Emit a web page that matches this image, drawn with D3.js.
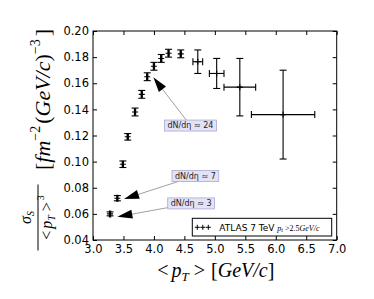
<!DOCTYPE html>
<html>
<head>
<meta charset="utf-8">
<script src="https://cdn.jsdelivr.net/npm/d3@7"></script>
<style>
  html, body { margin: 0; padding: 0; background: #fff; }
  svg { display: block; }
</style>
</head>
<body>
<div id="chart"></div>
<script>
// data
const meanPt = [3.28, 3.40, 3.49, 3.57, 3.69, 3.80, 3.89, 4.00, 4.12, 4.24, 4.44, 4.72, 5.03, 5.41, 6.12];
const sigmaOverPt3 = [0.060, 0.072, 0.098, 0.119, 0.138, 0.1515, 0.165, 0.173, 0.179, 0.183, 0.1825, 0.1765, 0.1675, 0.157, 0.136];
const ptErr = [0.01, 0.01, 0.01, 0.01, 0.01, 0.01, 0.01, 0.01, 0.01, 0.01, 0.01, 0.08, 0.12, 0.26, 0.52];
const sigmaErr = [0.0015, 0.002, 0.0025, 0.0025, 0.003, 0.003, 0.003, 0.003, 0.003, 0.003, 0.003, 0.009, 0.0115, 0.022, 0.034];

const xTicks = [3.0, 3.5, 4.0, 4.5, 5.0, 5.5, 6.0, 6.5, 7.0];
const yTicks = [0.04, 0.06, 0.08, 0.10, 0.12, 0.14, 0.16, 0.18, 0.20];

const noteLabels = ["dN/dη ≈ 24", "dN/dη ≈ 7", "dN/dη ≈ 3"];
const noteTextX = [4.60, 4.68, 4.61];
const noteTextY = [0.1276, 0.089, 0.068];
const noteTipX = [3.99, 3.51, 3.40];
const noteTipY = [0.1646, 0.0714, 0.0578];

// =========================
// SETUP
// =========================
const width = 374, height = 299;
const margin = { top: 31, right: 37.3, bottom: 59, left: 93 };
const iw = width - margin.left - margin.right;
const ih = height - margin.top - margin.bottom;

const svg = d3.select("#chart").append("svg")
    .attr("width", width)
    .attr("height", height);

const g = svg.append("g")
    .attr("transform", `translate(${margin.left},${margin.top})`);

const x = d3.scaleLinear().domain([3, 7]).range([0, iw]);
const y = d3.scaleLinear().domain([0.04, 0.20]).range([ih, 0]);

const sans = "'DejaVu Sans', sans-serif";
const serif = "'Liberation Serif', 'DejaVu Serif', serif";

// =========================
// AXES (ticks inward, all four sides)
// =========================
g.append("g")
    .attr("transform", `translate(0,${ih})`)
    .call(d3.axisBottom(x).tickValues(xTicks).tickFormat(d3.format(".1f"))
        .tickSize(-4).tickSizeOuter(0).tickPadding(5));
g.append("g")
    .call(d3.axisLeft(y).tickValues(yTicks).tickFormat(d3.format(".2f"))
        .tickSize(-4).tickSizeOuter(0).tickPadding(4));
g.append("g")
    .call(d3.axisTop(x).tickValues(xTicks).tickFormat("")
        .tickSize(-4).tickSizeOuter(0));
g.append("g")
    .attr("transform", `translate(${iw},0)`)
    .call(d3.axisRight(y).tickValues(yTicks).tickFormat("")
        .tickSize(-4).tickSizeOuter(0));

g.selectAll(".tick text")
    .style("font-family", sans)
    .style("font-size", "11.5px")
    .attr("fill", "#000");
g.selectAll(".tick line").attr("stroke", "#000");
g.selectAll(".domain").remove();

g.append("rect")
    .attr("width", iw).attr("height", ih)
    .attr("fill", "none").attr("stroke", "#000").attr("stroke-width", 1);

// =========================
// ERROR BARS
// =========================
const pts = meanPt.map((v, i) => ({ x: v, y: sigmaOverPt3[i], xe: ptErr[i], ye: sigmaErr[i] }));
const cap = 3.5;

const eb = g.append("g")
    .attr("stroke", "#000")
    .attr("stroke-width", 1.1)
    .attr("fill", "none");

pts.forEach(d => {
    const cx = x(d.x), cy = y(d.y);
    const x0 = x(d.x - d.xe), x1 = x(d.x + d.xe);
    const y0 = y(d.y - d.ye), y1 = y(d.y + d.ye);
    eb.append("line").attr("x1", x0).attr("x2", x1).attr("y1", cy).attr("y2", cy);
    eb.append("line").attr("x1", cx).attr("x2", cx).attr("y1", y0).attr("y2", y1);
    // caps
    eb.append("line").attr("x1", cx - cap).attr("x2", cx + cap).attr("y1", y0).attr("y2", y0);
    eb.append("line").attr("x1", cx - cap).attr("x2", cx + cap).attr("y1", y1).attr("y2", y1);
    eb.append("line").attr("x1", x0).attr("x2", x0).attr("y1", cy - cap).attr("y2", cy + cap);
    eb.append("line").attr("x1", x1).attr("x2", x1).attr("y1", cy - cap).attr("y2", cy + cap);
    // '+' marker
    eb.append("path").attr("d", `M${cx - 3},${cy}H${cx + 3}M${cx},${cy - 3}V${cy + 3}`);
});

// =========================
// ANNOTATIONS
// =========================
noteLabels.forEach((label, i) => {
    const cx = x(noteTextX[i]), cy = y(noteTextY[i]);
    const tx = x(noteTipX[i]), ty = y(noteTipY[i]);
    const ng = g.append("g");
    const box = ng.append("rect");
    const t = ng.append("text")
        .attr("x", cx).attr("y", cy)
        .attr("text-anchor", "middle")
        .attr("dy", "0.35em")
        .style("font-family", sans)
        .style("font-size", "8px")
        .attr("fill", "#222")
        .text(label);
    const bb = t.node().getBBox();
    const padX = 3;
    const bw = bb.width + 2 * padX, bh = 11;
    box.attr("x", cx - bw / 2).attr("y", cy - bh / 2)
        .attr("width", bw).attr("height", bh)
        .attr("fill", "#e3e3f8")
        .attr("stroke", "#a9aacf")
        .attr("stroke-width", 0.8);

    // arrow: shaft from box edge, black head at tip
    const dx = tx - cx, dy = ty - cy;
    const len = Math.hypot(dx, dy);
    const ux = dx / len, uy = dy / len;
    const s = Math.min((bw / 2) / Math.abs(dx || 1e-9), (bh / 2) / Math.abs(dy || 1e-9));
    const sx = cx + dx * s, sy = cy + dy * s;
    const headLen = 15, headHalf = 4.5;
    const bx = tx - ux * headLen, by = ty - uy * headLen;
    ng.insert("line", "rect")
        .attr("x1", sx).attr("y1", sy).attr("x2", bx).attr("y2", by)
        .attr("stroke", "#888").attr("stroke-width", 0.8);
    ng.append("path")
        .attr("d", `M${tx},${ty}L${bx - uy * headHalf},${by + ux * headHalf}L${bx + uy * headHalf},${by - ux * headHalf}Z`)
        .attr("fill", "#000");
});

// =========================
// LEGEND
// =========================
const lg = g.append("g").attr("transform", `translate(${192.3 - margin.left},${218.3 - margin.top})`);
lg.append("rect")
    .attr("width", 139.4).attr("height", 17.7)
    .attr("fill", "#fff").attr("stroke", "#000").attr("stroke-width", 1);
[5, 10.5, 16].forEach(mx => {
    lg.append("path")
        .attr("d", `M${mx - 2.5},9H${mx + 2.5}M${mx},6.5V11.5`)
        .attr("stroke", "#000").attr("stroke-width", 1);
});
const lt = lg.append("text").attr("x", 27).attr("y", 12.5).attr("fill", "#000");
lt.append("tspan").style("font-family", sans).style("font-size", "9px").text("ATLAS 7 TeV ");
lt.append("tspan").style("font-family", serif).style("font-style", "italic").style("font-size", "8px").text("p");
lt.append("tspan").style("font-family", serif).style("font-style", "italic").style("font-size", "6px").attr("dy", 1.5).text("t");
lt.append("tspan").style("font-family", serif).style("font-size", "8px").attr("dy", -1.5).text(" >2.5");
lt.append("tspan").style("font-family", serif).style("font-style", "italic").style("font-size", "8px").text("GeV/c");

// =========================
// AXIS LABELS
// =========================
const xl = svg.append("text")
    .attr("x", margin.left + iw / 2 + 1).attr("y", 277)
    .attr("text-anchor", "middle")
    .style("font-family", serif)
    .style("font-size", "20px")
    .attr("fill", "#000");
xl.append("tspan").text("<");
xl.append("tspan").attr("dx", 3).style("font-style", "italic").text("p");
xl.append("tspan").style("font-style", "italic").style("font-size", "13px").attr("dy", 4).text("T");
xl.append("tspan").attr("dy", -4).attr("dx", 5).text(">");
xl.append("tspan").attr("dx", 6).text("[");
xl.append("tspan").style("font-style", "italic").text("GeV/c");
xl.append("tspan").text("]");

// y label: rotated; u runs along the page upward (negative), v to the right
const yl = svg.append("g").attr("transform", "rotate(-90)");
const fracU = -217.5;
yl.append("line")
    .attr("x1", fracU - 33).attr("x2", fracU + 33)
    .attr("y1", 38).attr("y2", 38)
    .attr("stroke", "#000").attr("stroke-width", 1);
const num = yl.append("text")
    .attr("x", fracU).attr("y", 31)
    .attr("text-anchor", "middle")
    .style("font-family", serif).style("font-size", "16px").attr("fill", "#000");
num.append("tspan").style("font-style", "italic").text("σ");
num.append("tspan").style("font-style", "italic").style("font-size", "10px").attr("dy", 3).text("S");
const den = yl.append("text")
    .attr("x", fracU).attr("y", 52)
    .attr("text-anchor", "middle")
    .style("font-family", serif).style("font-size", "16px").attr("fill", "#000");
den.append("tspan").text("<");
den.append("tspan").attr("dx", 2).style("font-style", "italic").text("p");
den.append("tspan").style("font-style", "italic").style("font-size", "10px").attr("dy", 3).text("T");
den.append("tspan").attr("dy", -3).attr("dx", 4).text(">");
den.append("tspan").style("font-size", "10px").attr("dx", 2).attr("dy", -8).text("3");

const unit = yl.append("text")
    .attr("x", -99.5).attr("y", 50)
    .attr("text-anchor", "middle")
    .style("font-family", serif).style("font-size", "22px").attr("fill", "#000");
unit.append("tspan").text("[");
unit.append("tspan").style("font-style", "italic").text("fm");
unit.append("tspan").style("font-size", "14px").attr("dy", -10).text("−2");
unit.append("tspan").attr("dy", 10).attr("dx", 2).text("(");
unit.append("tspan").style("font-style", "italic").text("GeV/c");
unit.append("tspan").text(")");
unit.append("tspan").style("font-size", "14px").attr("dy", -10).text("−3");
unit.append("tspan").attr("dy", 10).attr("dx", 3).text("]");
</script>
</body>
</html>
